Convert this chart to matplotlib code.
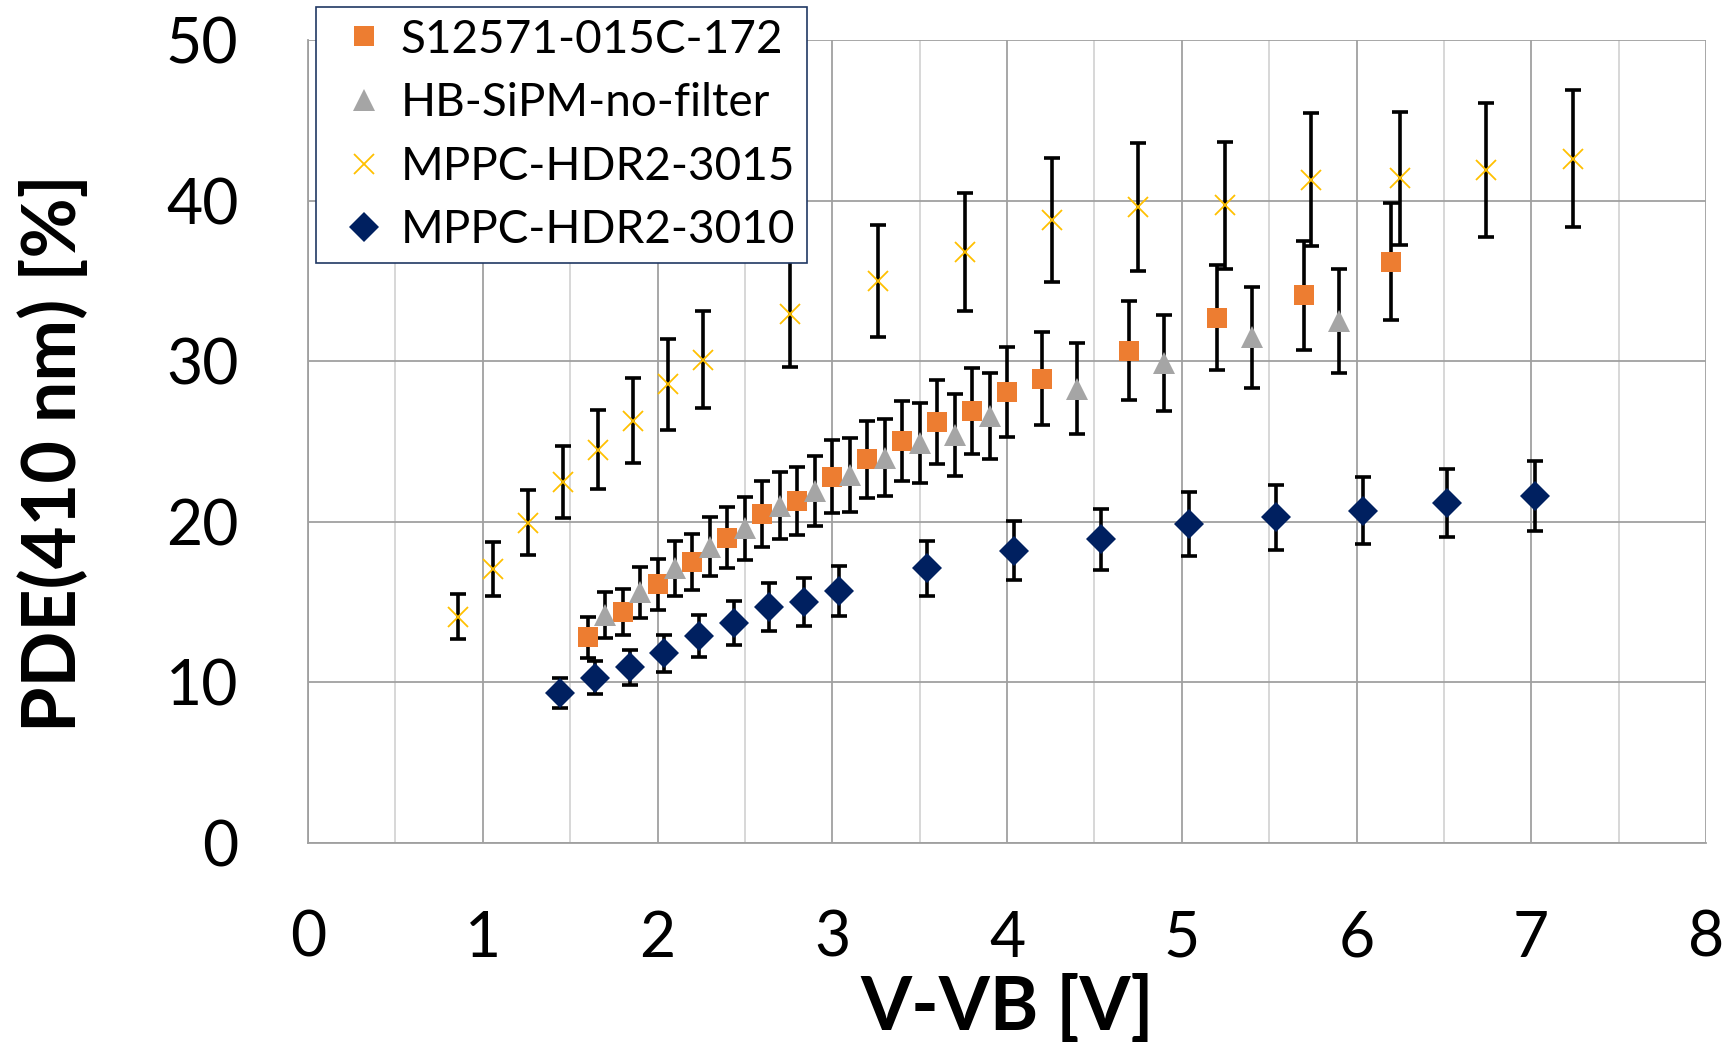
import matplotlib
matplotlib.use("Agg")
import matplotlib.pyplot as plt
from matplotlib.ticker import MultipleLocator

plt.rcParams['font.family'] = ['Lato', 'DejaVu Sans']

# S12571-015C-172
s125_x = [1.60, 1.80, 2.00, 2.20, 2.40, 2.60, 2.80, 3.00, 3.20, 3.40, 3.60, 3.80, 4.00, 4.20, 4.70, 5.20, 5.70, 6.20]
s125_y = [12.8, 14.4, 16.1, 17.5, 19.0, 20.5, 21.3, 22.8, 23.9, 25.05, 26.2, 26.9, 28.1, 28.9, 30.65, 32.7, 34.1, 36.2]
s125_err = [1.28, 1.44, 1.61, 1.75, 1.90, 2.05, 2.13, 2.28, 2.39, 2.5, 2.62, 2.69, 2.81, 2.89, 3.07, 3.27, 3.41, 3.62]

# HB-SiPM-no-filter
hb_x = [1.70, 1.90, 2.10, 2.30, 2.50, 2.70, 2.90, 3.10, 3.30, 3.50, 3.70, 3.90, 4.40, 4.90, 5.40, 5.90]
hb_y = [14.2, 15.6, 17.1, 18.45, 19.6, 21.0, 21.9, 22.9, 24.0, 24.9, 25.4, 26.6, 28.3, 29.9, 31.5, 32.5]
hb_err = [1.42, 1.56, 1.71, 1.85, 1.96, 2.1, 2.19, 2.29, 2.4, 2.49, 2.54, 2.66, 2.83, 2.99, 3.15, 3.25]

# MPPC-HDR2-3015
m15_x = [0.86, 1.06, 1.26, 1.46, 1.66, 1.86, 2.06, 2.26, 2.76, 3.26, 3.76, 4.26, 4.75, 5.25, 5.74, 6.25, 6.74, 7.24]
m15_y = [14.1, 17.05, 19.95, 22.5, 24.5, 26.3, 28.55, 30.1, 32.95, 35.0, 36.8, 38.8, 39.6, 39.7, 41.3, 41.4, 41.9, 42.6]
m15_err = [1.41, 1.7, 2.0, 2.25, 2.45, 2.63, 2.86, 3.01, 3.3, 3.5, 3.68, 3.88, 3.96, 3.97, 4.13, 4.14, 4.19, 4.26]

# MPPC-HDR2-3010
m10_x = [1.44, 1.64, 1.84, 2.04, 2.24, 2.44, 2.64, 2.84, 3.04, 3.54, 4.04, 4.54, 5.04, 5.54, 6.04, 6.52, 7.02]
m10_y = [9.36, 10.3, 10.94, 11.8, 12.9, 13.7, 14.7, 15.0, 15.7, 17.1, 18.2, 18.9, 19.86, 20.28, 20.7, 21.15, 21.6]
m10_err = [0.94, 1.03, 1.09, 1.18, 1.29, 1.37, 1.47, 1.5, 1.57, 1.71, 1.82, 1.89, 1.99, 2.03, 2.07, 2.12, 2.16]

series = [
    ("S12571-015C-172", s125_x, s125_y, s125_err, dict(marker='s', color='#ED7D31', markersize=15, markeredgewidth=0)),
    ("HB-SiPM-no-filter", hb_x, hb_y, hb_err, dict(marker='^', color='#A5A5A5', markersize=16, markeredgewidth=0)),
    ("MPPC-HDR2-3015", m15_x, m15_y, m15_err, dict(marker='x', color='#FFC000', markersize=14, markeredgewidth=1.3)),
    ("MPPC-HDR2-3010", m10_x, m10_y, m10_err, dict(marker='D', color='#002060', markersize=15, markeredgewidth=0)),
]

fig = plt.figure(figsize=(17.29, 10.54), dpi=100)
ax = fig.add_axes([308 / 1729, 1 - 843 / 1054, 1398 / 1729, 803 / 1054])

handles = []
for name, xs, ys, es, style in series:
    ax.errorbar(xs, ys, yerr=es, fmt='none', ecolor='black', elinewidth=2.6,
                capsize=5.5, capthick=2.6, zorder=3)
    h, = ax.plot(xs, ys, linestyle='none', label=name, zorder=4, **style)
    handles.append(h)

ax.set_xlim(0, 8)
ax.set_ylim(0, 50)
ax.xaxis.set_major_locator(MultipleLocator(1))
ax.xaxis.set_minor_locator(MultipleLocator(0.5))
ax.yaxis.set_major_locator(MultipleLocator(10))
ax.grid(which='major', color='#A0A0A0', linewidth=1.3, zorder=0)
ax.grid(which='minor', axis='x', color='#D4D4D4', linewidth=1.3, zorder=0)
ax.set_axisbelow(True)

for side in ['top', 'right']:
    ax.spines[side].set_visible(False)
for side in ['left', 'bottom']:
    ax.spines[side].set_color('#A0A0A0')
    ax.spines[side].set_linewidth(1.3)

ax.tick_params(which='both', length=0)
ax.tick_params(axis='x', labelsize=45, pad=48)
ax.tick_params(axis='y', labelsize=45, pad=50)

ax.set_xlabel("V-VB [V]", fontsize=53, fontweight='bold')
ax.set_ylabel("PDE(410 nm) [%]", fontsize=53, fontweight='bold')
ax.xaxis.set_label_coords(0.5, -0.163)
ax.yaxis.set_label_coords(-0.157, 0.486)

leg = ax.legend(handles=handles, loc='upper left', bbox_to_anchor=(0.0057, 1.041),
                fontsize=33, numpoints=1, handlelength=1.6, handletextpad=0.0,
                borderpad=0.25, labelspacing=0.47, borderaxespad=0,
                fancybox=False, framealpha=1)
leg.get_frame().set_edgecolor('#203864')
leg.get_frame().set_linewidth(1.2)
leg.set_zorder(10)

fig.savefig("out.png", dpi=100)
